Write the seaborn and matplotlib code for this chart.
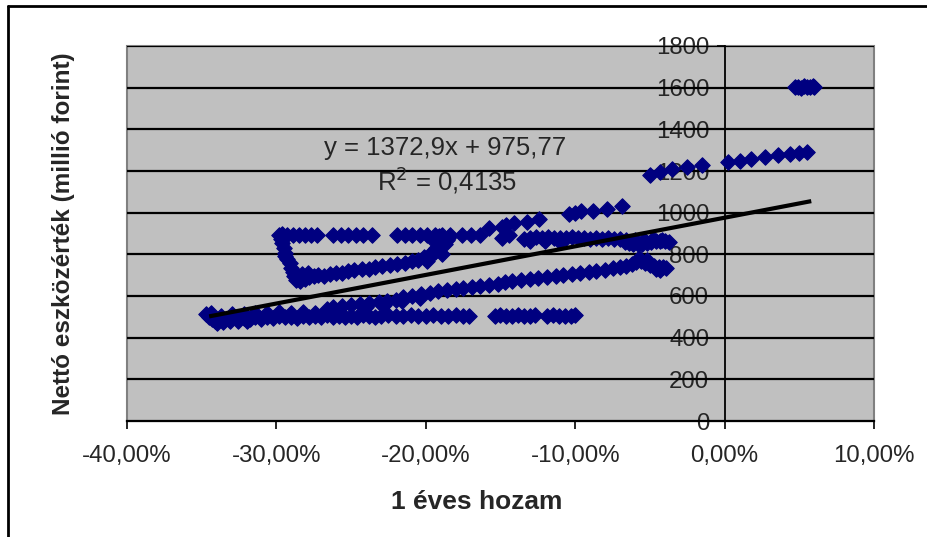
import matplotlib
matplotlib.use("Agg")
import matplotlib.pyplot as plt
from matplotlib.ticker import FuncFormatter
from matplotlib.lines import Line2D
from matplotlib.patches import Rectangle
import numpy as np
import pandas as pd
import seaborn as sns

# --- fund observations: 1-year return (fraction) vs. net asset value (million HUF) ---
low_flat_x = [-0.347, -0.345, -0.343, -0.341, -0.339, -0.337, -0.335, -0.332, -0.329, -0.326,
              -0.322, -0.318, -0.314, -0.310, -0.306, -0.302, -0.298, -0.294, -0.290, -0.286,
              -0.282, -0.278, -0.274, -0.270, -0.266, -0.262, -0.258, -0.254, -0.250, -0.246,
              -0.242, -0.238, -0.234, -0.344, -0.340, -0.336, -0.331, -0.326, -0.320]
low_flat_y = [515, 500, 488, 478, 492, 505, 483, 490, 500, 488,
              495, 490, 498, 492, 500, 495, 505, 498, 500, 496,
              503, 497, 505, 500, 510, 500, 505, 498, 505, 500,
              510, 505, 500, 520, 470, 475, 478, 480, 482]

bottom_row_x = [-0.230, -0.225, -0.220, -0.215, -0.210, -0.205, -0.200, -0.195, -0.190, -0.185,
                -0.180, -0.175, -0.171, -0.154, -0.150, -0.146, -0.142, -0.138, -0.134, -0.130,
                -0.127, -0.119, -0.115, -0.111, -0.107, -0.103, -0.100]
bottom_row_y = [505, 508, 505, 503, 507, 505, 505, 508, 505, 503,
                507, 505, 505, 505, 507, 505, 503, 507, 505, 505,
                508, 505, 507, 505, 505, 503, 507]

rising_x = [-0.330, -0.322, -0.314, -0.306, -0.298, -0.290, -0.282, -0.274, -0.266, -0.262,
            -0.256, -0.250, -0.244, -0.238, -0.231, -0.226, -0.220, -0.215, -0.209, -0.203,
            -0.197, -0.192, -0.186, -0.180, -0.175, -0.169, -0.164, -0.158, -0.152, -0.147,
            -0.142, -0.136, -0.130, -0.125, -0.119, -0.113, -0.108, -0.102, -0.097, -0.091,
            -0.086, -0.080, -0.075, -0.070, -0.066, -0.062, -0.059, -0.056, -0.053, -0.050,
            -0.047, -0.044, -0.041, -0.039, -0.240, -0.228, -0.216, -0.204, -0.057, -0.052,
            -0.046, -0.043]
rising_y = [512, 515, 518, 520, 522, 518, 525, 520, 540, 547,
            550, 555, 560, 565, 571, 575, 582, 595, 600, 608,
            615, 622, 629, 632, 640, 643, 648, 655, 660, 667,
            670, 675, 683, 688, 691, 695, 700, 705, 710, 715,
            720, 725, 734, 740, 745, 752, 763, 770, 760, 750,
            745, 740, 738, 735, 545, 558, 575, 590, 782, 775,
            728, 726]

middle_x = [-0.297, -0.296, -0.295, -0.294, -0.294, -0.293, -0.291, -0.290, -0.289, -0.288,
            -0.287, -0.284, -0.281, -0.278, -0.275, -0.272, -0.268, -0.264, -0.260, -0.256,
            -0.252, -0.248, -0.243, -0.238, -0.234, -0.229, -0.224, -0.219, -0.214, -0.209,
            -0.205, -0.201, -0.198, -0.196, -0.194, -0.192, -0.190, -0.188, -0.186, -0.185,
            -0.193, -0.197, -0.189, -0.187, -0.195, -0.191, -0.286, -0.283, -0.279, -0.199]
middle_y = [875, 855, 830, 805, 790, 780, 760, 735, 715, 695,
            675, 672, 680, 690, 695, 700, 698, 705, 710, 712,
            720, 725, 728, 732, 740, 745, 748, 755, 760, 770,
            775, 785, 790, 800, 810, 825, 840, 855, 870, 880,
            830, 800, 800, 850, 870, 890, 700, 705, 712, 770]

upper_row_x = [-0.298, -0.293, -0.289, -0.285, -0.281, -0.277, -0.273, -0.262, -0.257, -0.252,
               -0.247, -0.242, -0.236, -0.219, -0.214, -0.209, -0.204, -0.199, -0.194, -0.189,
               -0.184, -0.176, -0.170, -0.164, -0.296]
upper_row_y = [895, 893, 893, 893, 893, 893, 893, 893, 893, 893,
               893, 893, 893, 893, 893, 893, 893, 893, 893, 893,
               893, 893, 893, 893, 900]

cross_x = [-0.158, -0.149, -0.146, -0.141, -0.132, -0.124, -0.149, -0.144]
cross_y = [926, 930, 941, 950, 955, 970, 880, 893]

row870_x = [-0.134, -0.130, -0.126, -0.122, -0.118, -0.114, -0.110, -0.106, -0.102, -0.098,
            -0.094, -0.090, -0.086, -0.082, -0.078, -0.074, -0.070, -0.067, -0.064, -0.061,
            -0.058, -0.055, -0.052, -0.049, -0.046, -0.043, -0.040, -0.037, -0.066, -0.060,
            -0.054, -0.048, -0.042, -0.130, -0.120, -0.110]
row870_y = [875, 880, 882, 880, 885, 880, 878, 880, 882, 878,
            880, 876, 878, 875, 880, 876, 872, 860, 855, 850,
            848, 852, 855, 858, 862, 865, 862, 860, 870, 868,
            870, 872, 868, 862, 865, 860]

row1000_x = [-0.104, -0.100, -0.096, -0.088, -0.079, -0.069]
row1000_y = [995, 998, 1010, 1010, 1018, 1030]

row1200_x = [-0.050, -0.043, -0.035, -0.025, -0.015, 0.002, 0.010, 0.018, 0.027, 0.036,
             0.044, 0.050, 0.055]
row1200_y = [1181, 1195, 1210, 1220, 1230, 1243, 1248, 1260, 1268, 1275,
             1283, 1288, 1290]

top_x = [0.047, 0.049, 0.051, 0.053, 0.055, 0.057, 0.059, 0.060]
top_y = [1603, 1605, 1600, 1608, 1602, 1605, 1607, 1603]

# linear trend as reported on the chart
slope, intercept = 1372.9, 975.77
r_squared = "0,4135"

x_ticks = [-0.4, -0.3, -0.2, -0.1, 0.0, 0.1]
y_ticks = list(range(0, 1801, 200))

df = pd.DataFrame({
    "hozam": low_flat_x + bottom_row_x + rising_x + middle_x + upper_row_x + cross_x
             + row870_x + row1000_x + row1200_x + top_x,
    "nav": low_flat_y + bottom_row_y + rising_y + middle_y + upper_row_y + cross_y
           + row870_y + row1000_y + row1200_y + top_y,
})

sns.set_style("white")
plt.rcParams["font.family"] = ["Liberation Sans", "DejaVu Sans"]

W, H = 928, 537
fig = plt.figure(figsize=(W / 100, H / 100), dpi=100)
fig.patch.set_facecolor("white")
ax = fig.add_axes([127 / W, 1 - 421 / H, (874 - 127) / W, (421 - 46) / H])
ax.set_facecolor("#C0C0C0")

for yv in y_ticks[1:]:
    ax.axhline(yv, color="black", lw=1.6, zorder=1)

sns.scatterplot(data=df, x="hozam", y="nav", marker="D", color="#000080",
                edgecolor="#000080", linewidth=0.8, s=62, ax=ax, zorder=3, legend=False)

xs = np.array([-0.345, 0.058])
ax.plot(xs, slope * xs + intercept, color="black", lw=3, zorder=4, solid_capstyle="butt")

ax.set_xlim(-0.4, 0.1)
ax.set_ylim(0, 1800)
ax.set_xticks(x_ticks)
ax.set_yticks(y_ticks)
ax.xaxis.set_major_formatter(FuncFormatter(lambda v, p: f"{v * 100:.2f}%".replace(".", ",").replace("-0,00", "0,00")))

for side in ("top", "right"):
    ax.spines[side].set_visible(False)
ax.spines["left"].set_position(("data", 0))
ax.spines["left"].set_color("black")
ax.spines["left"].set_linewidth(1.3)
ax.spines["bottom"].set_color("black")
ax.spines["bottom"].set_linewidth(1.6)
ax.add_patch(Rectangle((0, 0), 1, 1, transform=ax.transAxes, fill=False,
                       edgecolor="#808080", lw=1.5, zorder=0.5, clip_on=False))

ax.tick_params(axis="both", which="major", direction="out", length=6, width=1.2,
               color="black", labelsize=17.3, bottom=True, left=True)
ax.tick_params(axis="y", pad=5)
ax.tick_params(axis="x", pad=11)

ax.set_xlabel("1 éves hozam", fontsize=19, fontweight="bold")
ax.xaxis.set_label_coords((477 - 127) / 747, -(502 - 421) / 375, transform=ax.transAxes)
ax.xaxis.label.set_va("center")
ax.set_ylabel("Nettó eszközérték (millió forint)", fontsize=17.5, fontweight="bold")
ax.yaxis.set_label_coords(-0.07, 0.5, transform=ax.transAxes)

ax.text(-0.187, 1312, "y = 1372,9x + 975,77", fontsize=18.5, ha="center", va="center", zorder=5)
ax.text(-0.186, 1158, f"R$^2$ = {r_squared}", fontsize=18.5, ha="center", va="center", zorder=5)

# chart frame
fig.add_artist(Line2D([8 / W, 8 / W], [0, 1 - 6 / H], color="black", lw=2, transform=fig.transFigure))
fig.add_artist(Line2D([8 / W, 1], [1 - 6 / H, 1 - 6 / H], color="black", lw=2, transform=fig.transFigure))

fig.savefig("out.png", dpi=100)
